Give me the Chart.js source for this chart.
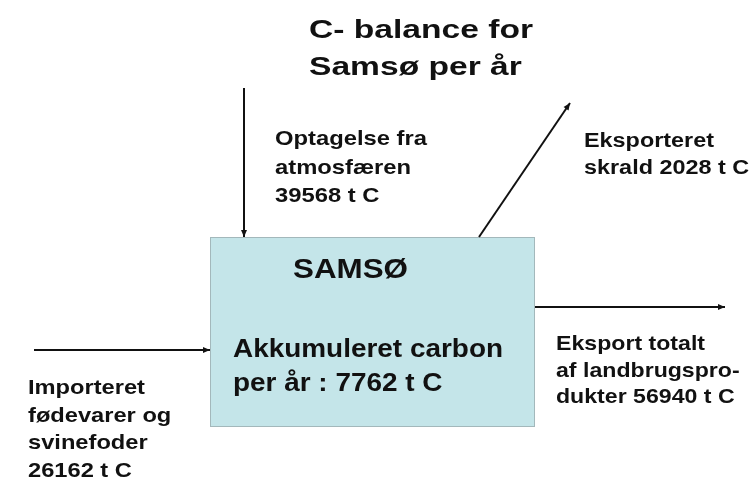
<!DOCTYPE html>
<html>
<head>
<meta charset="utf-8">
<script src="https://cdn.jsdelivr.net/npm/chart.js@4/dist/chart.umd.min.js"></script>
<style>
  html, body { margin: 0; padding: 0; background: #ffffff; }
  #wrap { width: 754px; height: 479px; position: relative; }
</style>
</head>
<body>
<div id="wrap"><canvas id="balance"></canvas></div>
<script>
// C-balance for Samsø, t C per year
const title = ['C- balance for', 'Samsø per år'];
const flowNames = ['Optagelse fra atmosfæren', 'Eksporteret skrald', 'Importeret fødevarer og svinefoder', 'Eksport totalt af landbrugsprodukter'];
const flowValues = [39568, 2028, 26162, 56940];
const accumulated = 7762;

// diagram layout (in page units, used through the chart's scales)
const box = { x0: 210, y0: 237, x1: 535, y1: 427 };
const arrows = [
    [{ x: 244, y: 88 }, { x: 244, y: 237 }],
    [{ x: 479, y: 237 }, { x: 570, y: 103 }],
    [{ x: 34, y: 350 }, { x: 210, y: 350 }],
    [{ x: 535, y: 307 }, { x: 725, y: 307 }]
];
// x, first baseline, font size, line gap, width of first line
const labels = [
    { x: 275, y: 145, size: 21, gap: 28.5, w: 152, lines: ['Optagelse fra', 'atmosfæren', flowValues[0] + ' t C'] },
    { x: 584, y: 147, size: 20, gap: 27, w: 130, lines: ['Eksporteret', 'skrald ' + flowValues[1] + ' t C'] },
    { x: 28, y: 394, size: 21, gap: 27.5, w: 117, lines: ['Importeret', 'fødevarer og', 'svinefoder', flowValues[2] + ' t C'] },
    { x: 556, y: 350, size: 21, gap: 26.5, w: 149, lines: ['Eksport totalt', 'af landbrugspro-', 'dukter ' + flowValues[3] + ' t C'] },
    { x: 293, y: 278, size: 28, gap: 0, w: 115, lines: ['SAMSØ'] },
    { x: 233, y: 357, size: 26, gap: 34, w: 270, lines: ['Akkumuleret carbon', 'per år : ' + accumulated + ' t C'] },
    { x: 309, y: 38, size: 25, gap: 37, w: 224, lines: title }
];

const ink = '#111111';

const diagramPlugin = {
    id: 'diagram',
    beforeDatasetsDraw(chart) {
        const { ctx, scales: { x, y } } = chart;
        const left = x.getPixelForValue(box.x0), right = x.getPixelForValue(box.x1);
        const top = y.getPixelForValue(box.y0), bottom = y.getPixelForValue(box.y1);
        ctx.save();
        ctx.fillStyle = '#c4e5e9';
        ctx.strokeStyle = '#a3b8bb';
        ctx.lineWidth = 1;
        ctx.fillRect(left, top, right - left, bottom - top);
        ctx.strokeRect(left + 0.5, top + 0.5, right - left - 1, bottom - top - 1);
        ctx.restore();
    },
    afterDatasetsDraw(chart) {
        const { ctx, scales: { x, y } } = chart;
        ctx.save();
        // arrow heads
        ctx.fillStyle = ink;
        arrows.forEach(a => {
            const p0 = { x: x.getPixelForValue(a[0].x), y: y.getPixelForValue(a[0].y) };
            const p1 = { x: x.getPixelForValue(a[1].x), y: y.getPixelForValue(a[1].y) };
            const ang = Math.atan2(p1.y - p0.y, p1.x - p0.x);
            const len = 7, half = 3;
            ctx.beginPath();
            ctx.moveTo(p1.x, p1.y);
            ctx.lineTo(p1.x - len * Math.cos(ang) + half * Math.sin(ang), p1.y - len * Math.sin(ang) - half * Math.cos(ang));
            ctx.lineTo(p1.x - len * Math.cos(ang) - half * Math.sin(ang), p1.y - len * Math.sin(ang) + half * Math.cos(ang));
            ctx.closePath();
            ctx.fill();
        });
        // texts, stretched sideways like the original slide
        ctx.textBaseline = 'alphabetic';
        ctx.textAlign = 'left';
        labels.forEach(l => {
            ctx.font = 'bold ' + l.size + 'px "Liberation Sans", Arial, sans-serif';
            const stretch = l.w / ctx.measureText(l.lines[0]).width;
            l.lines.forEach((line, i) => {
                ctx.save();
                ctx.translate(x.getPixelForValue(l.x), y.getPixelForValue(l.y + i * l.gap));
                ctx.scale(stretch, 1);
                ctx.fillText(line, 0, 0);
                ctx.restore();
            });
        });
        ctx.restore();
    }
};

new Chart(document.getElementById('balance').getContext('2d'), {
    type: 'scatter',
    data: {
        datasets: arrows.map((a, i) => ({
            label: flowNames[i],
            data: a,
            showLine: true,
            borderColor: ink,
            borderWidth: 2,
            pointRadius: 0,
            fill: false
        }))
    },
    options: {
        responsive: true,
        maintainAspectRatio: false,
        animation: false,
        layout: { padding: 0 },
        scales: {
            x: { type: 'linear', min: 0, max: 754, display: false },
            y: { type: 'linear', min: 0, max: 479, reverse: true, display: false }
        },
        plugins: {
            legend: { display: false },
            tooltip: { enabled: false }
        }
    },
    plugins: [diagramPlugin]
});
</script>
</body>
</html>
